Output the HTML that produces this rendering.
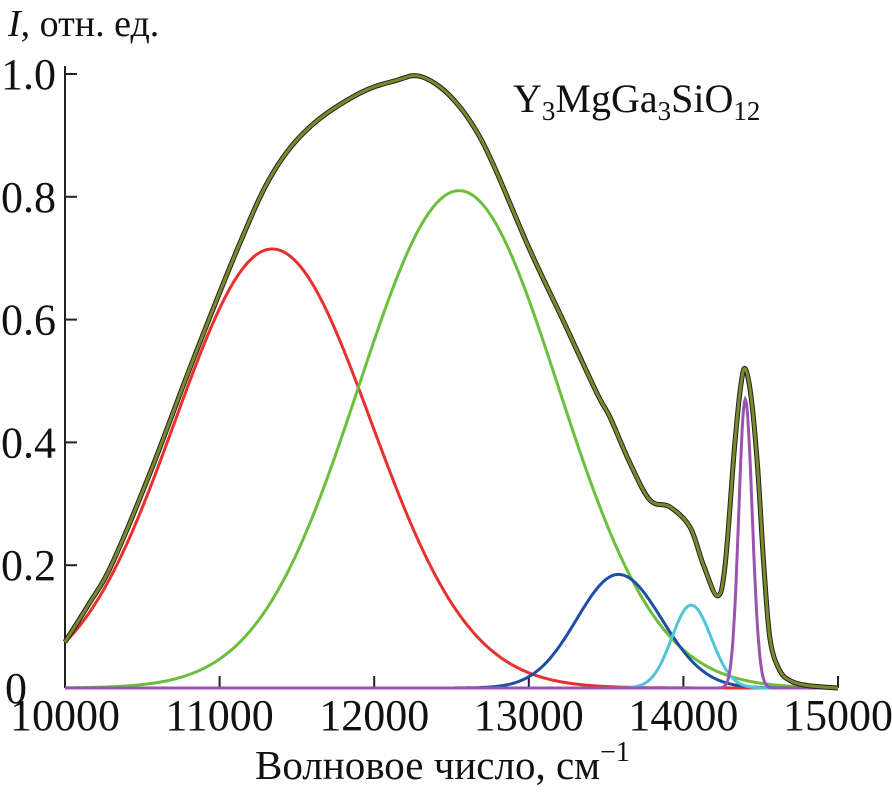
<!DOCTYPE html>
<html><head><meta charset="utf-8"><style>
html,body{margin:0;padding:0;background:#fff}
svg{display:block}
text{font-family:"Liberation Serif","Times New Roman",serif}
</style></head><body>
<svg id="chart" width="892" height="793" viewBox="0 0 892 793">
<g id="axes"></g>
<g id="series"></g>
<text x="8" y="36" font-size="38" font-family="Liberation Serif, serif" fill="#111"><tspan font-style="italic">I</tspan>, отн. ед.</text>
<text x="255" y="779" font-size="41" font-family="Liberation Serif, serif" fill="#111">Волновое число, см<tspan font-size="28" dy="-18">−1</tspan></text>
<text x="513" y="112" font-size="40" font-family="Liberation Serif, serif" fill="#111">Y<tspan font-size="27" dy="8">3</tspan><tspan dy="-8">MgGa</tspan><tspan font-size="27" dy="8">3</tspan><tspan dy="-8">SiO</tspan><tspan font-size="27" dy="8">12</tspan></text>
</svg>
<script>
const xTicks=[10000,11000,12000,13000,14000,15000];
const yTicks=[0,0.2,0.4,0.6,0.8,1.0];
const yTickLabels=["0","0.2","0.4","0.6","0.8","1.0"];
const compNames=["red","green","blue","cyan","purple"];
const compColors=["#e8302e","#6cbf3e","#1e4fa0","#52c4d8","#9b52b0"];
const compCenters=[11340,12550,13580,14050,14400];
const compPeaks=[0.715,0.81,0.185,0.135,0.47];
const compLeftWidths=[630,650,270,125,42];
const compRightWidths=[640,640,280,130,45];
const totalX=[10000,10150,10300,10550,10828,11132,11345,11585,11908,12150,12280,12420,12555,12684,12794,13008,13221,13441,13525,13655,13784,13913,14043,14130,14220,14270,14330,14370,14400,14440,14480,14520,14560,14620,14690,14800,15000];
const totalY=[0.075,0.135,0.2,0.35,0.534,0.725,0.839,0.914,0.969,0.99,0.997,0.98,0.946,0.897,0.839,0.713,0.599,0.48,0.441,0.366,0.306,0.295,0.262,0.2,0.15,0.2,0.39,0.49,0.52,0.47,0.36,0.2,0.08,0.03,0.012,0.004,0.0];
const X0=65,X1=838,Y0=688,Y1=74;
const xs=v=>X0+(v-10000)/5000*(X1-X0);
const ys=v=>Y0-v*(Y0-Y1);
const NS="http://www.w3.org/2000/svg";
const axes=document.getElementById('axes'),series=document.getElementById('series');
function mk(tag,attrs,parent){const e=document.createElementNS(NS,tag);for(const k in attrs)e.setAttribute(k,attrs[k]);parent.appendChild(e);return e;}
const yl=mk('line',{x1:X0,y1:Y0,x2:X0,y2:Y1-8,stroke:'#222','stroke-width':2},axes);


const xl=mk('line',{x1:X0,y1:Y0,x2:X1,y2:Y0,stroke:'#222','stroke-width':2},axes);


xTicks.forEach((t,i)=>{
 const l=mk('line',{x1:xs(t),y1:Y0,x2:xs(t),y2:Y0-12,stroke:'#222','stroke-width':2},axes);
 
 
 const tx=mk('text',{x:xs(t),y:Y0+42,'font-size':44,'font-family':'Liberation Serif, serif','text-anchor':'middle',fill:'#111'},axes);
 tx.textContent=String(t);
 
 
});
yTicks.forEach((t,i)=>{
 if(t>0){const l=mk('line',{x1:X0,y1:ys(t),x2:X0+12,y2:ys(t),stroke:'#222','stroke-width':2},axes);
 
 }
 const tx=mk('text',{x:t===0?27:56,y:ys(t)+15,'font-size':44,'font-family':'Liberation Serif, serif','text-anchor':'end',fill:'#111'},axes);
 tx.textContent=yTickLabels[i];
 
 
});
function comp(i,x){
 const d=x-compCenters[i],s=d<0?compLeftWidths[i]:compRightWidths[i];
 return compPeaks[i]*Math.exp(-d*d/(2*s*s));
}
function path(f){let d='';for(let x=10000;x<=15000;x+=5){d+=(x===10000?'M':'L')+xs(x).toFixed(1)+','+ys(f(x)).toFixed(1);}return d;}
function spline(X,Y){
 const P=X.map((x,i)=>[xs(x),ys(Y[i])]);
 let d='M'+P[0][0].toFixed(1)+','+P[0][1].toFixed(1);
 for(let i=0;i<P.length-1;i++){
  const p0=P[Math.max(0,i-1)],p1=P[i],p2=P[i+1],p3=P[Math.min(P.length-1,i+2)];
  const c1=[p1[0]+(p2[0]-p0[0])/6,p1[1]+(p2[1]-p0[1])/6];
  const c2=[p2[0]-(p3[0]-p1[0])/6,p2[1]-(p3[1]-p1[1])/6];
  d+='C'+c1[0].toFixed(1)+','+c1[1].toFixed(1)+' '+c2[0].toFixed(1)+','+c2[1].toFixed(1)+' '+p2[0].toFixed(1)+','+p2[1].toFixed(1);
 }
 return d;
}
compNames.forEach((n,i)=>{
 const p=mk('path',{d:path(x=>comp(i,x)),fill:'none',stroke:compColors[i],'stroke-width':3},series);
 
 
});
const pb=mk('path',{d:spline(totalX,totalY),fill:'none',stroke:'#222','stroke-width':5},series);


const pt=mk('path',{d:spline(totalX,totalY),fill:'none',stroke:'#7a8a2a','stroke-width':3},series);


</script>
</body></html>
